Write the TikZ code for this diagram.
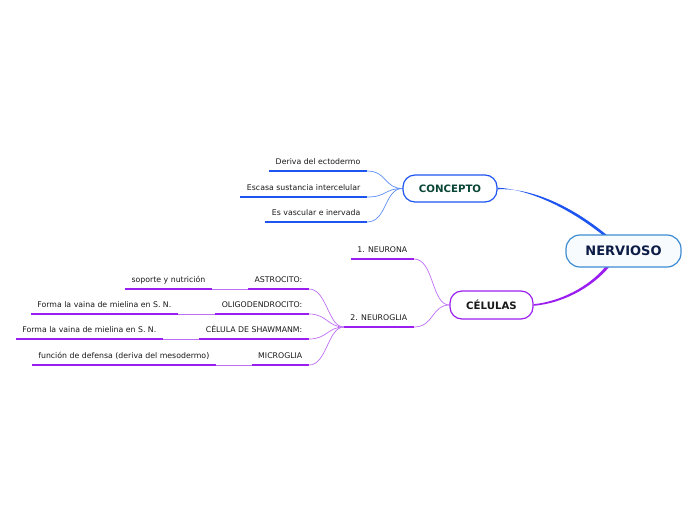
\documentclass[tikz,border=0pt]{standalone}
\usepackage{fontspec}
\setmainfont{DejaVu Sans}
\usetikzlibrary{backgrounds}
\definecolor{cblue}{RGB}{30,85,240}
\definecolor{cbluel}{RGB}{90,140,245}
\definecolor{cpurp}{RGB}{155,30,240}
\definecolor{cpurpl}{RGB}{190,110,245}
\definecolor{rootblue}{RGB}{60,140,210}
\definecolor{rootfill}{RGB}{248,251,254}
\definecolor{navy}{RGB}{12,28,70}
\definecolor{dgreen}{RGB}{10,70,55}
\definecolor{txt}{RGB}{25,25,25}
\tikzset{
  rootbox/.style={draw=rootblue, fill=rootfill, line width=1.2pt, rounded corners=14pt,
    minimum width=115pt, minimum height=32pt, text=navy,
    font=\bfseries\fontsize{13}{15}\selectfont},
  topic/.style={fill=white, line width=1.2pt, rounded corners=12pt,
    font=\bfseries\fontsize{10.2}{12}\selectfont},
  leaf/.style={anchor=south east, inner xsep=6.5pt, inner ysep=0pt,
    text height=6pt, text depth=6.5pt, text=txt, font=\fontsize{7.8}{9}\selectfont},
  bul/.style={draw=cblue, line width=1.8pt},
  pul/.style={draw=cpurp, line width=1.8pt},
  bcon/.style={draw=cbluel, line width=0.7pt},
  pcon/.style={draw=cpurpl, line width=0.7pt},
}
\begin{document}
\begin{tikzpicture}[x=1pt,y=-1pt]
\useasboundingbox (0,0) rectangle (696,520);
% main nodes
\node[rootbox] (root) at (623.5,251) {NERVIOSO};
\node[topic, draw=cblue, text=dgreen, minimum width=94pt, minimum height=27pt] (concepto) at (450,188.5) {CONCEPTO};
\node[topic, draw=cpurp, text=txt, minimum width=83pt, minimum height=28pt] (celulas) at (491.5,305) {CÉLULAS};
% concepto leaves
\node[leaf] (d1) at (367,171) {Deriva del ectodermo};
\node[leaf] (d2) at (367,197) {Escasa sustancia intercelular};
\node[leaf] (d3) at (367,222) {Es vascular e inervada};
% celulas children
\node[leaf] (n1) at (414,259) {1. NEURONA};
\node[leaf] (n2) at (414,327) {2. NEUROGLIA};
% neuroglia children
\node[leaf] (a1) at (309,289) {ASTROCITO:};
\node[leaf] (a2) at (309,314) {OLIGODENDROCITO:};
\node[leaf] (a3) at (309,339) {CÉLULA DE SHAWMANM:};
\node[leaf] (a4) at (309,365) {MICROGLIA};
\node[leaf] (s1) at (212,289) {soporte y nutrición};
\node[leaf] (s2) at (178,314) {Forma la vaina de mielina en S. N.};
\node[leaf] (s3) at (163,339) {Forma la vaina de mielina en S. N.};
\node[leaf] (s4) at (216,365) {función de defensa (deriva del mesodermo)};
\begin{scope}[on background layer]
% main connectors (tapered)
\fill[cblue] ([yshift=0.8pt]concepto.east) .. controls (530,189.5) and (569,208) .. (604,236)
  -- (608,236) .. controls (572,206) and (531,187.5) .. ([yshift=-0.8pt]concepto.east) -- cycle;
\fill[cpurp] ([yshift=0.8pt]celulas.east) .. controls (560,301.5) and (589,287) .. (606,266)
  -- (610,266) .. controls (591,289) and (561,303.5) .. ([yshift=-0.8pt]celulas.east) -- cycle;
% concepto leaves
\foreach \n in {d1,d2,d3}{
  \draw[bul] (\n.south west) -- (\n.south east);
  \draw[bcon] (\n.south east) .. controls +(20,0) and +(-18,0) .. (concepto.west);
}
\foreach \n in {n1,n2}{
  \draw[pul] (\n.south west) -- (\n.south east);
  \draw[pcon] (\n.south east) .. controls +(20,0) and +(-18,0) .. (celulas.west);
}
\foreach \n/\m in {a1/s1,a2/s2,a3/s3,a4/s4}{
  \draw[pul] (\n.south west) -- (\n.south east);
  \draw[pul] (\m.south west) -- (\m.south east);
  \draw[pcon] (\m.south east) -- (\n.south west);
  \draw[pcon] (\n.south east) .. controls +(18,0) and +(-16,0) .. (n2.south west);
}
\end{scope}
\end{tikzpicture}
\end{document}
